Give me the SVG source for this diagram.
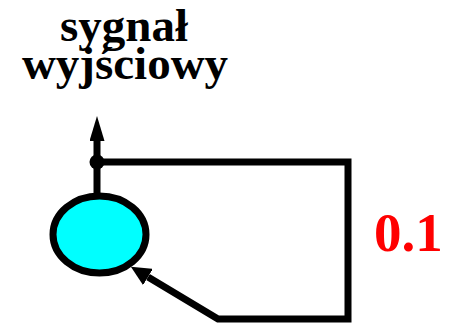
<svg xmlns="http://www.w3.org/2000/svg" width="450" height="324" viewBox="0 0 450 324">
  <style>
    .title { font-family: "Liberation Serif", "Times New Roman", serif; font-weight: bold; font-size: 47px; fill: #000; text-anchor: middle; }
    .gain { font-family: "Liberation Serif", "Times New Roman", serif; font-weight: bold; font-size: 55px; fill: #ff0000; }
    .wire { fill: none; stroke: #000; stroke-width: 7; stroke-linejoin: miter; stroke-linecap: butt; }
  </style>
  <defs>
    <!-- long narrow head for the output line -->
    <marker id="head-up" viewBox="0 0 25 15" refX="0" refY="7.5" markerUnits="userSpaceOnUse" markerWidth="25" markerHeight="15" orient="auto">
      <path d="M0,0 L25,7.5 L0,15 Z" fill="#000"/>
    </marker>
    <!-- wider head for the feedback input -->
    <marker id="head-in" viewBox="0 0 20 19" refX="0" refY="9.5" markerUnits="userSpaceOnUse" markerWidth="20" markerHeight="19" orient="auto">
      <path d="M0,0 L20,9.5 L0,19 Z" fill="#000"/>
    </marker>
  </defs>

  <g id="label-output">
    <text class="title" x="124" y="41">sygnał</text>
    <text class="title" x="125" y="79">wyjściowy</text>
  </g>

  <g id="connectors">
    <!-- output line upward -->
    <path class="wire" d="M97,196 L97,141" marker-end="url(#head-up)"/>
    <!-- feedback loop back into the node -->
    <path class="wire" d="M97,162 L348,162 L348,319 L218,319 L148,277" marker-end="url(#head-in)"/>
    <circle cx="97" cy="162" r="7.5" fill="#000"/>
  </g>

  <g id="node-sum">
    <ellipse cx="99.5" cy="234.5" rx="46.5" ry="38.5" fill="#00ffff" stroke="#000" stroke-width="7"/>
  </g>

  <g id="label-gain">
    <text class="gain" x="374" y="251">0.1</text>
  </g>
</svg>
